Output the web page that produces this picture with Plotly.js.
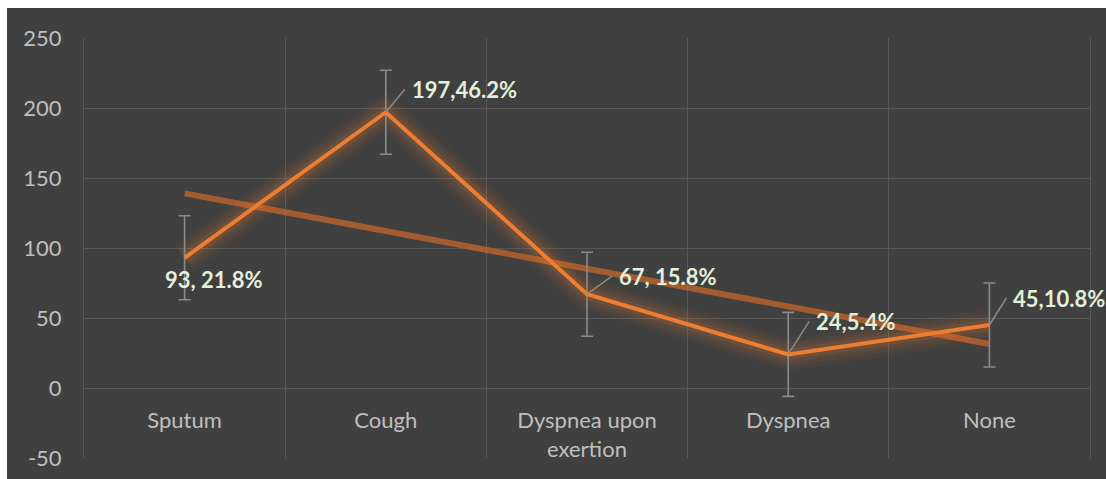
<!DOCTYPE html>
<html>
<head>
<meta charset="utf-8">
<script src="https://cdn.plot.ly/plotly-3.0.1.min.js"></script>
<style>
  html, body { margin: 0; padding: 0; background: #ffffff; }
  #chart { position: absolute; left: 7px; top: 8px; width: 1099px; height: 471px; }
</style>
</head>
<body>
<div id="chart"></div>
<script>
// ---- data ----
const categories = ["Sputum", "Cough", "Dyspnea upon<br>exertion", "Dyspnea", "None"];
const counts = [93, 197, 67, 24, 45];
const percents = [21.8, 46.2, 15.8, 5.4, 10.8];
const pointLabels = ["93, 21.8%", "197,46.2%", "67, 15.8%", "24,5.4%", "45,10.8%"];
const errorValue = 30;
const yTicks = [-50, 0, 50, 100, 150, 200, 250];
const yTickText = ["-50", "0", "50", "100", "150", "200", "250"];
const gridTicks = [0, 50, 100, 150, 200, 250];

// linear trendline (least squares on index 1..n)
const n = counts.length;
const xs = counts.map((_, i) => i + 1);
const mx = xs.reduce((a, b) => a + b, 0) / n;
const my = counts.reduce((a, b) => a + b, 0) / n;
let sxy = 0, sxx = 0;
for (let i = 0; i < n; i++) { sxy += (xs[i] - mx) * (counts[i] - my); sxx += (xs[i] - mx) ** 2; }
const slope = sxy / sxx, intercept = my - slope * mx;
const trend = xs.map(x => intercept + slope * x);

const ORANGE = "rgb(237,125,49)";
const FONT = "Lato, 'Open Sans', sans-serif";

const traces = [];
// trendline
traces.push({
  x: categories, y: trend, type: "scatter", mode: "lines",
  line: { color: "rgba(185,98,45,0.82)", width: 6 },
  hoverinfo: "skip", showlegend: false
});
// glow layers
[[32, 0.05], [24, 0.06], [17, 0.08], [11, 0.11]].forEach(([w, o]) => {
  traces.push({
    x: categories, y: counts, type: "scatter", mode: "lines",
    line: { color: ORANGE, width: w }, opacity: o,
    hoverinfo: "skip", showlegend: false
  });
});
// main series
traces.push({
  x: categories, y: counts, type: "scatter", mode: "lines",
  line: { color: ORANGE, width: 4 },
  error_y: { type: "constant", value: errorValue, color: "#8a8a8a", thickness: 1.6, width: 6 },
  showlegend: false
});
// grid helper on y2
traces.push({
  x: categories, y: counts, type: "scatter", mode: "lines", yaxis: "y2",
  line: { width: 0 }, opacity: 0, hoverinfo: "skip", showlegend: false
});

const offsets = [
  { arrow: false, xshift: 29, yshift: -22 },
  { arrow: true, ax: 19, ay: -23 },
  { arrow: true, ax: 25, ay: -18 },
  { arrow: true, ax: 21, ay: -33 },
  { arrow: true, ax: 17, ay: -27 }
];
const annotations = categories.map((c, i) => {
  const o = offsets[i];
  const a = {
    x: c, y: counts[i], xref: "x", yref: "y", text: "<b>" + pointLabels[i] + "</b>",
    font: { family: FONT, size: 22, color: "#E2EFDA" }
  };
  if (o.arrow) {
    Object.assign(a, { showarrow: true, ax: o.ax, ay: o.ay, axref: "pixel", ayref: "pixel",
      xanchor: "left", yanchor: "middle", borderpad: 6, arrowhead: 0, arrowwidth: 1.5,
      arrowcolor: "#8a8a8a", standoff: 0 });
  } else {
    Object.assign(a, { showarrow: false, xshift: o.xshift, yshift: o.yshift, xanchor: "center", yanchor: "middle" });
  }
  return a;
});

const layout = {
  width: 1099, height: 471,
  margin: { l: 77, r: 16, t: 30, b: 21 },
  paper_bgcolor: "#404040", plot_bgcolor: "#404040",
  font: { family: FONT, color: "#bfbfbf", size: 22 },
  showlegend: false,
  xaxis: {
    type: "category", range: [-0.5, 4.5], anchor: "free", position: 50 / 300,
    tickson: "boundaries", showgrid: true, gridcolor: "#585858", gridwidth: 1,
    ticks: "", showline: false, zeroline: false, ticklabelstandoff: 17,
    tickfont: { family: FONT, size: 22, color: "#bfbfbf" }
  },
  yaxis: {
    range: [-50, 250], tickvals: yTicks, ticktext: yTickText, showgrid: false, zeroline: false,
    showline: true, mirror: true, linecolor: "#585858", linewidth: 1,
    ticks: "", ticklabelstandoff: 17,
    tickfont: { family: FONT, size: 22, color: "#bfbfbf" }
  },
  yaxis2: {
    overlaying: "y", range: [-50, 250], tickvals: gridTicks, showticklabels: false,
    showgrid: true, gridcolor: "#585858", gridwidth: 1, zeroline: false, ticks: ""
  },
  annotations: annotations
};

Plotly.newPlot("chart", traces, layout, { displayModeBar: false, staticPlot: true });
</script>
</body>
</html>
